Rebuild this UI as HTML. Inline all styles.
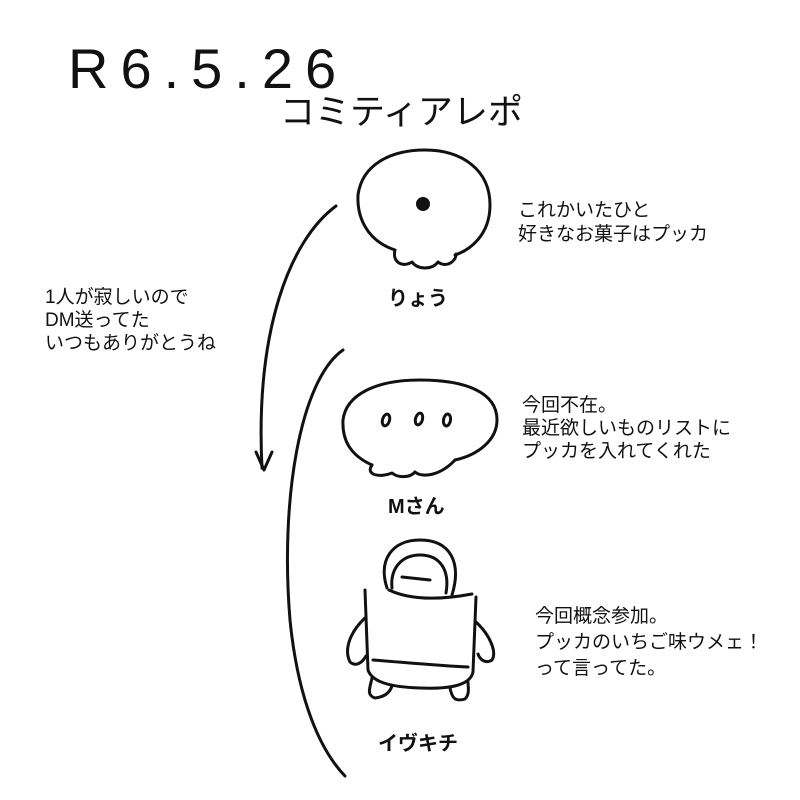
<!DOCTYPE html>
<html><head><meta charset="utf-8"><style>
html,body{margin:0;padding:0;background:#fff;}
svg{display:block;}
text{font-family:"Liberation Sans","Noto Sans CJK JP",sans-serif;fill:#111;}
</style></head><body>
<svg width="800" height="800" viewBox="0 0 800 800" xmlns="http://www.w3.org/2000/svg">
<g fill="none" stroke="#111" stroke-width="3" stroke-linecap="round" stroke-linejoin="round">
<path d="M336 206 C290 240 255 330 262 468"/>
<path d="M256 452 L264 470 L272 452"/>
<path d="M343 350 C300 380 280 500 290 620 C298 700 320 750 345 776"/>
<path d="M395 250 C365 240 357 215 358 195 C362 165 390 150 425 150 C462 150 490 170 490 205 C490 235 470 250 455 255"/>
<path d="M395 250 C392 262 402 268 412 262 C418 270 432 270 438 262 C446 268 456 262 456 254"/>
<circle cx="423" cy="204" r="7" fill="#111" stroke="none"/>
<path d="M372 465 C350 455 342 440 343 420 C346 395 375 380 420 380 C465 380 497 392 497 420 C497 440 478 455 455 460"/>
<path d="M372 465 C365 475 380 478 392 473 C398 478 410 478 415 472 C422 478 440 476 455 460"/>
<ellipse cx="386" cy="420" rx="3.5" ry="6" transform="rotate(15 386 420)"/>
<ellipse cx="419" cy="419" rx="3.5" ry="6" transform="rotate(15 419 419)"/>
<ellipse cx="447" cy="420" rx="3.5" ry="6" transform="rotate(10 447 420)"/>
<!-- Iwakichi -->
<path d="M387 588 C378 560 392 540 420 540 C450 540 462 562 452 595"/>
<path d="M392 588 C390 568 402 555 420 555 C440 555 450 570 446 593"/>
<path d="M402 577 L430 580"/>
<path d="M389 590 C410 600 440 600 472 594"/>
<path d="M365 590 L368 670 C372 682 390 687 420 688 C445 689 470 687 473 672 L476 597"/>
<path d="M373 660 C400 662 440 666 468 667"/>
<path d="M365 618 C352 630 343 648 350 662 C356 667 362 663 366 656"/>
<path d="M476 622 C490 635 497 652 492 660 C486 664 480 660 478 654"/>
<path d="M372 678 C370 688 366 695 375 698 C385 697 390 692 392 686"/>
<path d="M450 688 C452 698 455 702 465 699 C470 694 468 687 468 682"/>
</g>
<text x="68" y="88" font-size="56" letter-spacing="12">R6.5.26</text>
<text x="280" y="124" font-size="35">コミティアレポ</text>
<text x="388" y="305" font-size="20" font-weight="bold">りょう</text>
<text x="388" y="513" font-size="20" font-weight="bold">Mさん</text>
<text x="378" y="750" font-size="20" font-weight="bold">イヴキチ</text>
<g font-size="19">
<text x="518" y="216">これかいたひと</text>
<text x="518" y="240">好きなお菓子はプッカ</text>
<text x="45" y="303">1人が寂しいので</text>
<text x="45" y="326">DM送ってた</text>
<text x="45" y="349">いつもありがとうね</text>
<text x="522" y="411">今回不在。</text>
<text x="522" y="434">最近欲しいものリストに</text>
<text x="522" y="457">プッカを入れてくれた</text>
<text x="535" y="622">今回概念参加。</text>
<text x="535" y="648">プッカのいちご味ウメェ！</text>
<text x="535" y="674">って言ってた。</text>
</g>
</svg>
</body></html>
